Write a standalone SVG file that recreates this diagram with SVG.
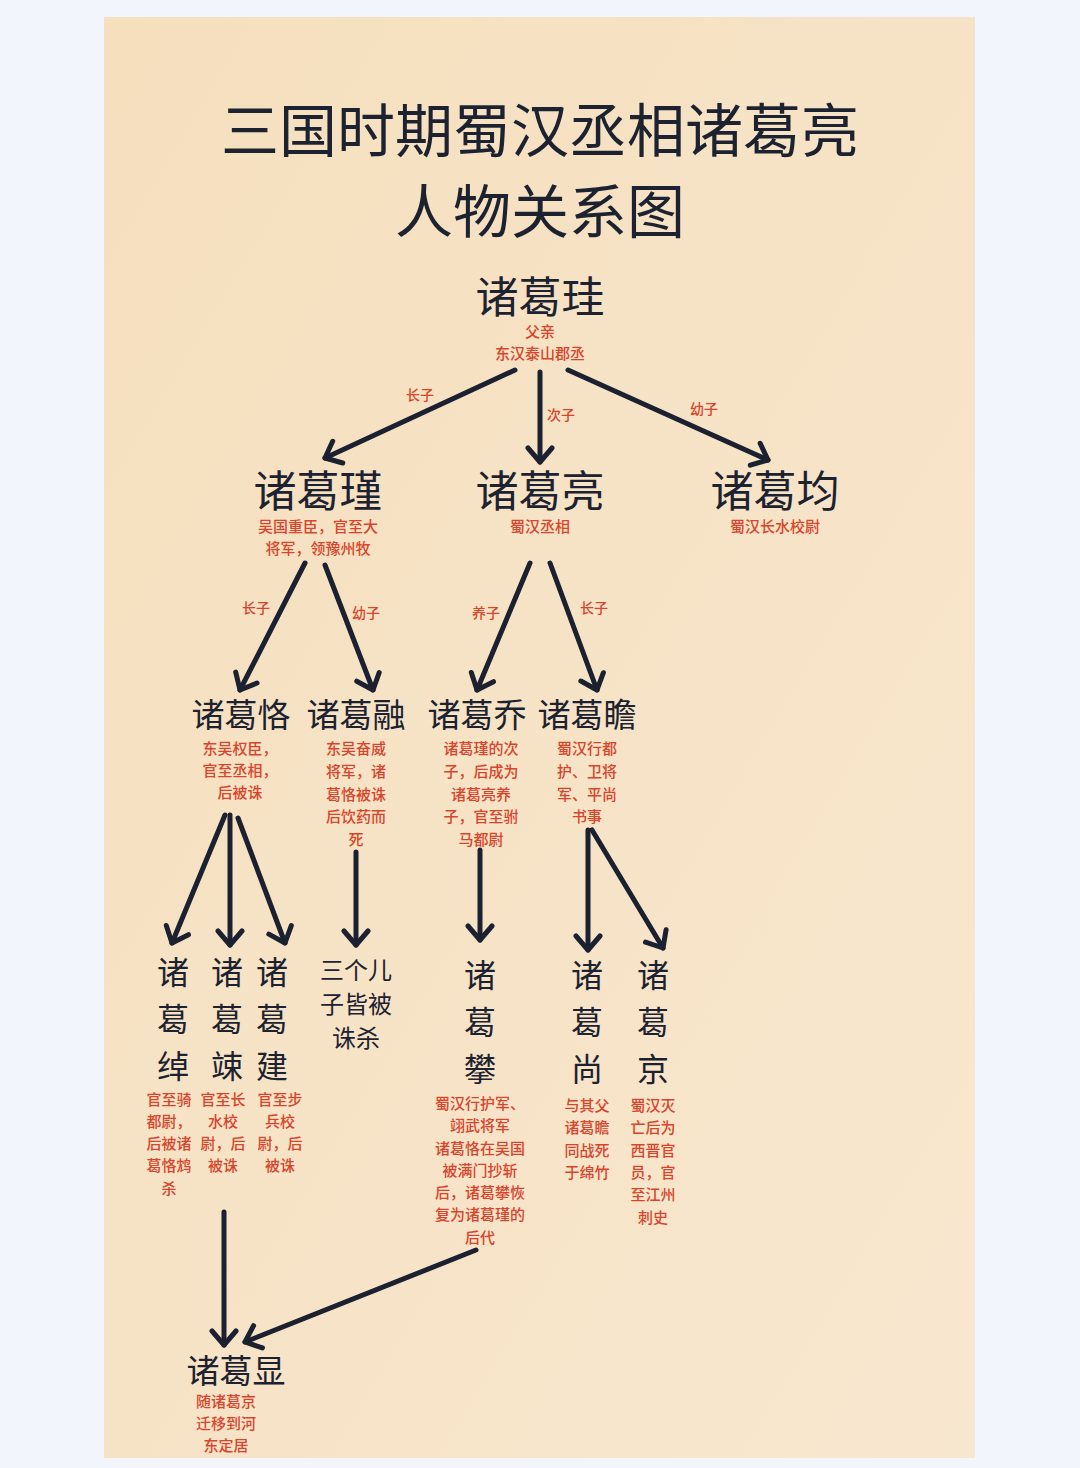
<svg xmlns="http://www.w3.org/2000/svg" width="1080" height="1468" viewBox="0 0 1080 1468">
<defs>
<linearGradient id="paper" x1="0" y1="0" x2="1" y2="1">
<stop offset="0" stop-color="#f5dfbd"/>
<stop offset="1" stop-color="#f8e7cf"/>
</linearGradient>
<marker id="ah" markerUnits="userSpaceOnUse" markerWidth="34" markerHeight="34" viewBox="-17 -17 34 34" refX="0" refY="0" orient="auto">
<path d="M-14,-12 L0,0 L-14,12" fill="none" stroke="#1b2130" stroke-width="5" stroke-linecap="round" stroke-linejoin="round"/>
</marker>
<style>
.t{font-family:"Noto Sans CJK SC","Noto Sans",sans-serif;fill:#1c2230;text-anchor:middle}
.title{font-size:58px;font-weight:400}
.n1{font-size:43px}
.n2{font-size:33px}
.nv{font-size:32px}
.n3{font-size:24px}
.r{font-family:"Noto Sans CJK SC","Noto Sans",sans-serif;fill:#d9452c;text-anchor:middle;font-size:15px;font-weight:500}
.lb{font-family:"Noto Sans CJK SC","Noto Sans",sans-serif;fill:#d9452c;text-anchor:middle;font-size:14px;font-weight:500}
.c line{stroke:#1b2130;stroke-width:5;stroke-linecap:round;marker-end:url(#ah)}
</style>
</defs>
<rect x="0" y="0" width="1080" height="1468" fill="#f2f6fc"/>
<rect x="104" y="17" width="871" height="1441" fill="url(#paper)"/>

<g id="title">
<text class="t title" x="540" y="152">三国时期蜀汉丞相诸葛亮</text>
<text class="t title" x="540" y="233">人物关系图</text>
</g>

<g class="c" id="connectors">
<line x1="515" y1="370" x2="325" y2="458"/>
<line x1="540" y1="372" x2="540" y2="462"/>
<line x1="568" y1="370" x2="768" y2="460"/>
<line x1="305" y1="563" x2="240" y2="690"/>
<line x1="325" y1="565" x2="373" y2="690"/>
<line x1="530" y1="563" x2="477" y2="690"/>
<line x1="550" y1="563" x2="597" y2="690"/>
<line x1="225" y1="815" x2="172" y2="943"/>
<line x1="230" y1="815" x2="230" y2="945"/>
<line x1="238" y1="818" x2="285" y2="943"/>
<line x1="356" y1="852" x2="356" y2="945"/>
<line x1="480" y1="850" x2="480" y2="940"/>
<line x1="588" y1="830" x2="588" y2="950"/>
<line x1="592" y1="830" x2="663" y2="948"/>
<line x1="224" y1="1212" x2="224" y2="1345"/>
<line x1="476" y1="1250" x2="245" y2="1342"/>
</g>
<g id="edge-labels">
<text class="lb" x="420" y="400">长子</text>
<text class="lb" x="561" y="420">次子</text>
<text class="lb" x="704" y="414">幼子</text>
<text class="lb" x="256" y="613">长子</text>
<text class="lb" x="366" y="618">幼子</text>
<text class="lb" x="486" y="618">养子</text>
<text class="lb" x="594" y="613">长子</text>
</g>

<g id="zhuge-gui">
<text class="t n1" x="540" y="313">诸葛珪</text>
<text class="r" x="540" y="337">父亲</text>
<text class="r" x="540" y="359">东汉泰山郡丞</text>
</g>
<g id="zhuge-jin">
<text class="t n1" x="318" y="507">诸葛瑾</text>
<text class="r" x="318" y="532">吴国重臣，官至大</text>
<text class="r" x="318" y="554">将军，领豫州牧</text>
</g>
<g id="zhuge-liang">
<text class="t n1" x="540" y="507">诸葛亮</text>
<text class="r" x="540" y="532">蜀汉丞相</text>
</g>
<g id="zhuge-jun">
<text class="t n1" x="775" y="507">诸葛均</text>
<text class="r" x="775" y="532">蜀汉长水校尉</text>
</g>

<g id="zhuge-ke">
<text class="t n2" x="241" y="727">诸葛恪</text>
<text class="r" x="240" y="754">东吴权臣，</text>
<text class="r" x="240" y="776">官至丞相，</text>
<text class="r" x="240" y="798">后被诛</text>
</g>
<g id="zhuge-rong">
<text class="t n2" x="356" y="727">诸葛融</text>
<text class="r" x="356" y="754">东吴奋威</text>
<text class="r" x="356" y="777">将军，诸</text>
<text class="r" x="356" y="800">葛恪被诛</text>
<text class="r" x="356" y="822">后饮药而</text>
<text class="r" x="356" y="845">死</text>
</g>
<g id="zhuge-qiao">
<text class="t n2" x="477" y="727">诸葛乔</text>
<text class="r" x="481" y="754">诸葛瑾的次</text>
<text class="r" x="481" y="777">子，后成为</text>
<text class="r" x="481" y="800">诸葛亮养</text>
<text class="r" x="481" y="822">子，官至驸</text>
<text class="r" x="481" y="845">马都尉</text>
</g>
<g id="zhuge-zhan">
<text class="t n2" x="587" y="727">诸葛瞻</text>
<text class="r" x="587" y="754">蜀汉行都</text>
<text class="r" x="587" y="777">护、卫将</text>
<text class="r" x="587" y="800">军、平尚</text>
<text class="r" x="587" y="822">书事</text>
</g>

<g id="zhuge-chuo">
<text class="t nv" x="173" y="984">诸</text>
<text class="t nv" x="173" y="1031">葛</text>
<text class="t nv" x="173" y="1078">绰</text>
<text class="r" x="169" y="1105">官至骑</text>
<text class="r" x="169" y="1127">都尉，</text>
<text class="r" x="169" y="1149">后被诸</text>
<text class="r" x="169" y="1171">葛恪鸩</text>
<text class="r" x="169" y="1194">杀</text>
</g>
<g id="zhuge-song">
<text class="t nv" x="227" y="984">诸</text>
<text class="t nv" x="227" y="1031">葛</text>
<text class="t nv" x="227" y="1078">竦</text>
<text class="r" x="223" y="1105">官至长</text>
<text class="r" x="223" y="1127">水校</text>
<text class="r" x="223" y="1149">尉，后</text>
<text class="r" x="223" y="1171">被诛</text>
</g>
<g id="zhuge-jian">
<text class="t nv" x="272" y="984">诸</text>
<text class="t nv" x="272" y="1031">葛</text>
<text class="t nv" x="272" y="1078">建</text>
<text class="r" x="280" y="1105">官至步</text>
<text class="r" x="280" y="1127">兵校</text>
<text class="r" x="280" y="1149">尉，后</text>
<text class="r" x="280" y="1171">被诛</text>
</g>
<g id="three-sons">
<text class="t n3" x="356" y="979">三个儿</text>
<text class="t n3" x="356" y="1013">子皆被</text>
<text class="t n3" x="356" y="1047">诛杀</text>
</g>
<g id="zhuge-pan">
<text class="t nv" x="480" y="987">诸</text>
<text class="t nv" x="480" y="1034">葛</text>
<text class="t nv" x="480" y="1081">攀</text>
<text class="r" x="480" y="1109">蜀汉行护军、</text>
<text class="r" x="480" y="1131">翊武将军</text>
<text class="r" x="480" y="1154">诸葛恪在吴国</text>
<text class="r" x="480" y="1176">被满门抄斩</text>
<text class="r" x="480" y="1198">后，诸葛攀恢</text>
<text class="r" x="480" y="1220">复为诸葛瑾的</text>
<text class="r" x="480" y="1243">后代</text>
</g>
<g id="zhuge-shang">
<text class="t nv" x="587" y="987">诸</text>
<text class="t nv" x="587" y="1034">葛</text>
<text class="t nv" x="587" y="1081">尚</text>
<text class="r" x="587" y="1111">与其父</text>
<text class="r" x="587" y="1133">诸葛瞻</text>
<text class="r" x="587" y="1156">同战死</text>
<text class="r" x="587" y="1178">于绵竹</text>
</g>
<g id="zhuge-jing">
<text class="t nv" x="653" y="987">诸</text>
<text class="t nv" x="653" y="1034">葛</text>
<text class="t nv" x="653" y="1081">京</text>
<text class="r" x="653" y="1111">蜀汉灭</text>
<text class="r" x="653" y="1133">亡后为</text>
<text class="r" x="653" y="1156">西晋官</text>
<text class="r" x="653" y="1178">员，官</text>
<text class="r" x="653" y="1200">至江州</text>
<text class="r" x="653" y="1223">刺史</text>
</g>
<g id="zhuge-xian">
<text class="t n2" x="236" y="1383">诸葛显</text>
<text class="r" x="226" y="1407">随诸葛京</text>
<text class="r" x="226" y="1429">迁移到河</text>
<text class="r" x="226" y="1451">东定居</text>
</g>
</svg>
